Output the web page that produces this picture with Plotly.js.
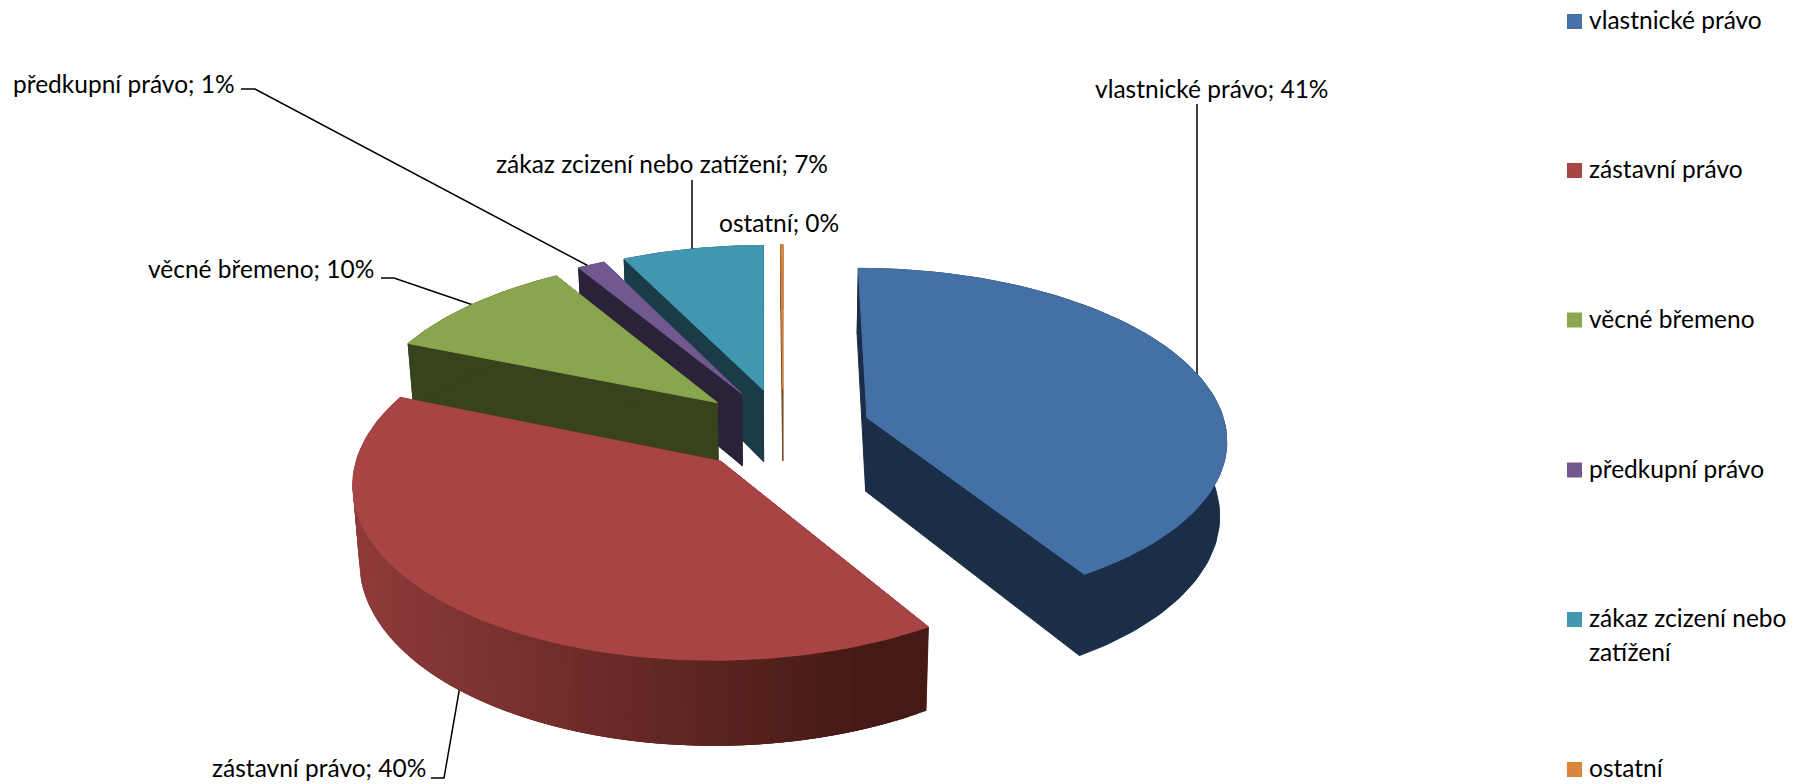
<!DOCTYPE html>
<html>
<head>
<meta charset="utf-8">
<script src="https://cdn.plot.ly/plotly-3.0.1.min.js"></script>
<style>html,body{margin:0;padding:0;background:#fff}#chart{width:1804px;height:784px}</style>
</head>
<body>
<div id="chart"></div>
<script>
// ---- data ----
const categories = ['vlastnické právo','zástavní právo','věcné břemeno','předkupní právo','zákaz zcizení nebo zatížení','ostatní'];
const shares = [41.15, 40.05, 10.1, 1.4, 7.2, 0.1];
const legendLines = [['vlastnické právo'],['zástavní právo'],['věcné břemeno'],['předkupní právo'],['zákaz zcizení nebo','zatížení'],['ostatní']];

// ---- styles ----
const topColors = ['#4470A6','#A84544','#89A54E','#71588F','#4097AF','#DB843D'];
const wallColors = ['#1B2E47','#5f2422','#38421D','#2A2239','#1A3C49','#7A4A22'];
const legendColors = ['#4672A9','#A84545','#8AA64F','#71588F','#4198AF','#DB843D'];
const drawOrder = [5,4,3,2,0,1];
const FONT = 'Lato, Carlito, Calibri, sans-serif';
const FS = 24.5;

// ---- projection of the tilted exploded pie into the page-sized axes ----
const view = {cx:783, cy:429, radius:360, pull:88, height:74, a:0.4708, b:0.000321, baseScale:0.984};
const sliceRadius = [359,357,358,360,360,360];
const sliceShift = [0,-4,0,0,0,0];
function rad(d){return d*Math.PI/180;}
function project(i, mid, ang, r, z){
  const u = view.pull*Math.sin(rad(mid)) + r*Math.sin(rad(ang));
  const v = -view.pull*Math.cos(rad(mid)) - r*Math.cos(rad(ang));
  const w = 1 - view.b*v;
  const sx = z ? view.baseScale : 1;
  return [view.cx + sliceShift[i] + sx*u/w, view.cy + view.a*v/w + (z ? view.height/w : 0)];
}
function poly(points, color, name, lw){
  return {type:'scatter', mode:'lines', x:points.map(p=>p[0]), y:points.map(p=>p[1]),
    fill:'toself', fillcolor:color, line:{color:color,width:lw===undefined?1:lw}, hoverinfo:'skip', showlegend:false, name:name};
}
function mix(c0,c1,t){
  t=Math.max(0,Math.min(1,t));
  return 'rgb('+c0.map((c,i)=>Math.round(c+(c1[i]-c)*t)).join(',')+')';
}
const redWall = {x0:352, x1:860, from:[143,59,57], to:[69,26,22]};

const total = shares.reduce((a,b)=>a+b,0);
const starts = []; let acc = 0;
shares.forEach(s=>{starts.push(acc/total*360); acc+=s;});

const traces = [];
drawOrder.forEach(i=>{
  const a0 = starts[i], a1 = a0 + shares[i]/total*360, mid=(a0+a1)/2, name=categories[i];
  const r = sliceRadius[i];
  const apexT = project(i,mid,0,0,false), apexB = project(i,mid,0,0,true);
  const n = Math.max(2,Math.ceil((a1-a0)/1.5));
  const angs = []; for(let k=0;k<=n;k++) angs.push(a0+(a1-a0)*k/n);
  const topArc = angs.map(t=>project(i,mid,t,r,false));
  const baseArc = angs.map(t=>project(i,mid,t,r,true));
  // cut faces
  traces.push(poly([apexT,topArc[0],baseArc[0],apexB,apexT],wallColors[i],name));
  traces.push(poly([apexT,topArc[n],baseArc[n],apexB,apexT],wallColors[i],name));
  // outer wall
  if(i===1){
    // painted from the dark end to the light end, each band overlapping the next
    for(let k=0;k<n;k++){
      const e=Math.min(k+3,n);
      const xm=(topArc[k][0]+topArc[k+1][0])/2;
      const col=mix(redWall.from,redWall.to,(xm-redWall.x0)/(redWall.x1-redWall.x0));
      const t=topArc.slice(k,e+1), b=baseArc.slice(k,e+1).reverse();
      traces.push(poly(t.concat(b).concat([t[0]]),col,name,0));
    }
  } else {
    traces.push(poly(topArc.concat(baseArc.slice().reverse()).concat([topArc[0]]),wallColors[i],name));
  }
  // top face
  traces.push(poly([apexT].concat(topArc).concat([apexT]),topColors[i],name));
});

// ---- legend swatches ----
const legendY = [21.5,170.5,320,470,619.5,769.5];
const legendTextDy = -2;
categories.forEach((c,i)=>{
  traces.push({type:'scatter',mode:'markers',x:[1574.5],y:[legendY[i]],name:c,showlegend:false,hoverinfo:'name',
    marker:{symbol:'square',size:15,color:legendColors[i],line:{width:0}}});
});

// ---- annotations ----
const annotations = [];
const labelPos = [[1212,88],[319,767],[261,268],[124,83],[662,163],[779,222]];
categories.forEach((c,i)=>{
  annotations.push({x:labelPos[i][0],y:labelPos[i][1],xref:'x',yref:'y',showarrow:false,xanchor:'center',yanchor:'middle',
    text:c+'; '+Math.round(shares[i])+'%',font:{family:FONT,size:FS,color:'#000'}});
  legendLines[i].forEach((line,k)=>{
    annotations.push({x:1587,y:legendY[i]+legendTextDy+k*33.5,xref:'x',yref:'y',showarrow:false,xanchor:'left',yanchor:'middle',
      text:line,font:{family:FONT,size:FS,color:'#000'}});
  });
});

// ---- leader lines ----
const leaders = [
  'M1197 104 L1197 380',
  'M431 778 L444 778 L460 686',
  'M381 278 L394 278 L476 306',
  'M241 89 L255 89 L596 270',
  'M692 180 L692 255'
];
const shapes = leaders.map(p=>({type:'path',path:p,xref:'x',yref:'y',layer:'below',line:{color:'#000',width:1.5}}));

Plotly.newPlot('chart',traces,{
  width:1804,height:784,margin:{l:0,r:0,t:0,b:0},
  paper_bgcolor:'#fff',plot_bgcolor:'#fff',showlegend:false,
  xaxis:{range:[0,1804],visible:false,fixedrange:true},
  yaxis:{range:[784,0],visible:false,fixedrange:true},
  annotations:annotations,shapes:shapes,hovermode:'closest'
},{displayModeBar:false});
</script>
</body>
</html>
